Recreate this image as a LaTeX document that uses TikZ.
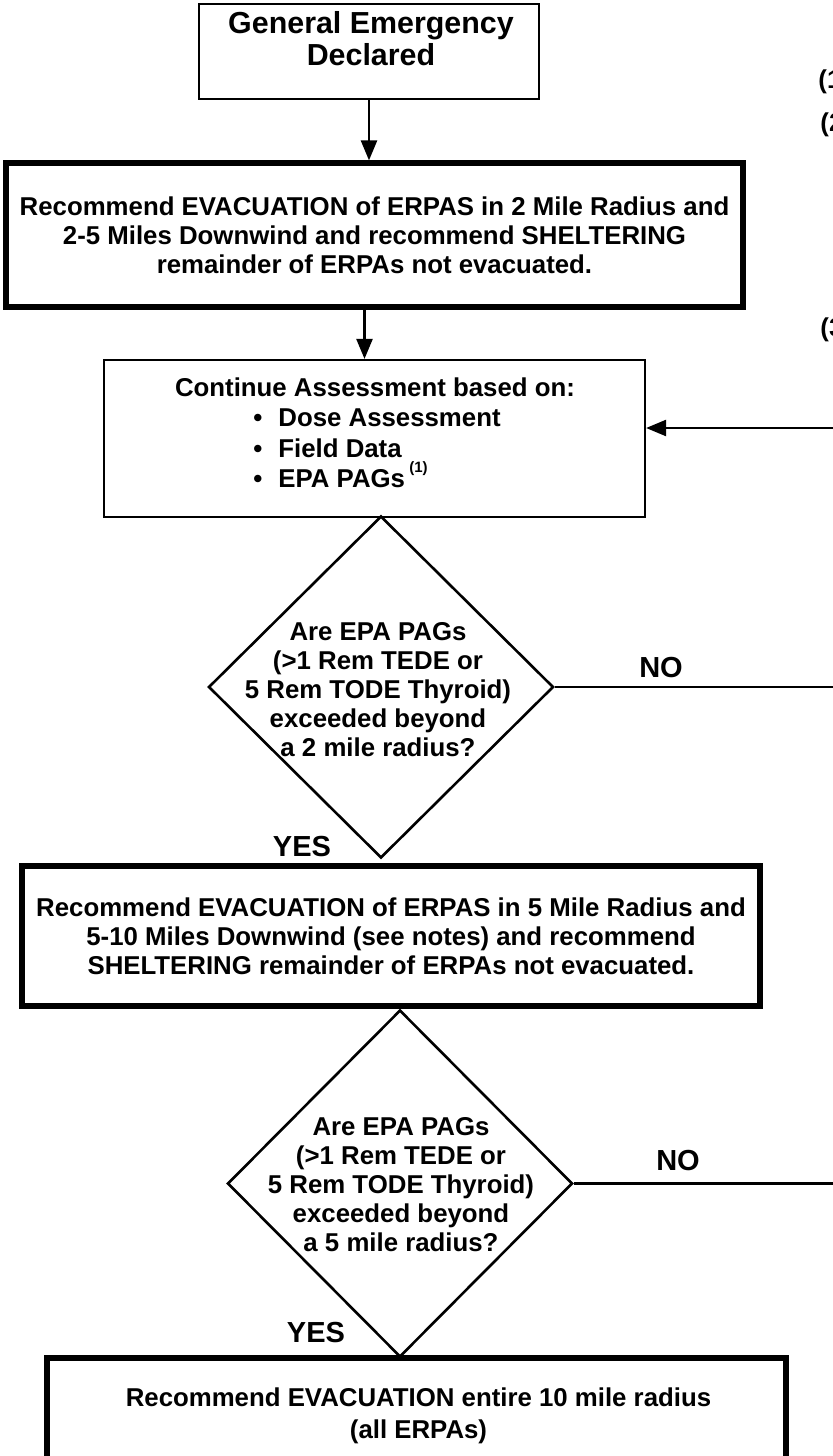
\documentclass[tikz,border=0pt]{standalone}
\usepackage{fontspec}
\setmainfont{Liberation Sans}
\usetikzlibrary{shapes.geometric,arrows.meta}

\begin{document}
\begin{tikzpicture}[x=0.5pt,y=-0.5pt,
  every node/.style={font=\bfseries\fontsize{12.9pt}{14.5pt}\selectfont, inner sep=0pt},
  thinbox/.style={draw, rectangle, line width=1.1pt},
  thickbox/.style={draw, rectangle, line width=2.6pt},
  decision/.style={draw, diamond, line width=1.3pt},
  flow/.style={line width=1.2pt, -{Triangle[length=10pt,width=8pt]}},
  plain/.style={line width=1.2pt},
  answer/.style={font=\bfseries\fontsize{14.5pt}{16pt}\selectfont},
]
\useasboundingbox (0,0) rectangle (832,1456);

% start
\node[thinbox, minimum width=170pt, minimum height=47.5pt] (ge) at (369,51.5) {};
\node[font=\bfseries\fontsize{15.2pt}{16pt}\selectfont, align=center] (get) at (371,39)
  {General Emergency\\Declared};

% first protective action
\node[thickbox, minimum width=368.5pt, minimum height=72pt, align=center] (r2) at (374.5,235)
  {Recommend EVACUATION of ERPAS in 2 Mile Radius and\\
   2-5 Miles Downwind and recommend SHELTERING\\
   remainder of ERPAs not evacuated.};

% continuing assessment
\node[thinbox, minimum width=270.5pt, minimum height=78.5pt] (ca) at (374.5,438.5) {};
\node[anchor=base] (cah) at (375,396) {Continue Assessment based on:};
\node[anchor=base] (b1) at (258,426) {\textbullet};
\node[anchor=base] (b2) at (258,457) {\textbullet};
\node[anchor=base] (b3) at (258,487) {\textbullet};
\node[anchor=base west] (i1) at (278,426) {Dose Assessment};
\node[anchor=base west] (i2) at (278,457) {Field Data};
\node[anchor=base west] (i3) at (278,487) {EPA PAGs\,\raisebox{0.55em}{\fontsize{7.5pt}{8pt}\selectfont(1)}};

% first decision
\node[decision, minimum width=172.5pt, minimum height=171pt] (d1) at (381,687) {};
\node[align=center] (d1t) at (378,690)
  {Are EPA PAGs\\(>1 Rem TEDE or\\5 Rem TODE Thyroid)\\exceeded beyond\\a 2 mile radius?};

% second protective action
\node[thickbox, minimum width=369pt, minimum height=70pt, align=center] (r4) at (391,936)
  {Recommend EVACUATION of ERPAS in 5 Mile Radius and\\
   5-10 Miles Downwind (see notes) and recommend\\
   SHELTERING remainder of ERPAs not evacuated.};

% second decision
\node[decision, minimum width=172.5pt, minimum height=173.5pt] (d2) at (400,1183.5) {};
\node[align=center] (d2t) at (401,1185)
  {Are EPA PAGs\\(>1 Rem TEDE or\\5 Rem TODE Thyroid)\\exceeded beyond\\a 5 mile radius?};

% full evacuation
\node[thickbox, minimum width=369.5pt, minimum height=53pt] (r5) at (416.5,1411) {};
\node[font=\bfseries\fontsize{12.9pt}{16pt}\selectfont, align=center] (r5t) at (418.5,1416)
  {Recommend EVACUATION entire 10 mile radius\\(all ERPAs)};

% note markers at the right margin
\node[anchor=west] (n1) at (818,82) {(1)};
\node[anchor=west] (n2) at (820,125) {(2)};
\node[anchor=west] (n3) at (820,330) {(3)};

% connectors
\coordinate (fb) at (845,428);
\draw[flow] (ge.south) -- (ge.south |- r2.north);
\draw[flow] ([xshift=-5pt]r2.south) -- ([xshift=-5pt]r2.south |- ca.north);
\draw[flow] (fb) -- (fb -| ca.east);
\draw[plain] (d1.east) -- (d1.east -| fb);
\draw[plain] (d2.east) -- (d2.east -| fb);

% branch labels
\node[answer] (no1) at (661,668) {NO};
\node[answer] (no2) at (678,1161) {NO};
\node[answer] (yes1) at (302,847) {YES};
\node[answer] (yes2) at (316,1332) {YES};
\end{tikzpicture}
\end{document}
